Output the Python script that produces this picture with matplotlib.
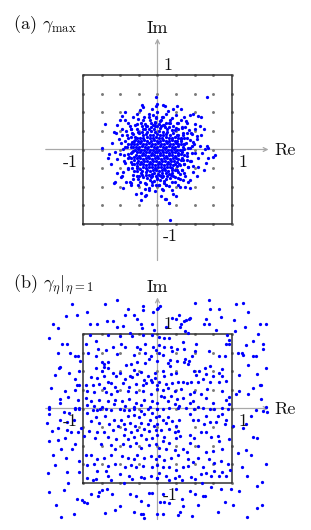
import numpy as np
import matplotlib
matplotlib.use("Agg")
import matplotlib.pyplot as plt

plt.rcParams['mathtext.fontset'] = 'cm'

# ---------------- data ----------------
grid_ticks = [-1.0, -0.75, -0.5, -0.25, 0.0, 0.25, 0.5, 0.75, 1.0]
tick_labels = ["1", "-1"]
axis_names = ["Re", "Im"]
titles = [r"(a) $\gamma_{\max}$", r"(b) $\gamma_\eta|_{\eta=1}$"]

# panel (a): eigenvalue cloud (estimated in the dense core)
points_a = [
    # dense core
    (-0.05, 0.28), (0.03, 0.29),
    (-0.14, 0.24), (-0.09, 0.25), (-0.03, 0.23), (0.02, 0.25), (0.07, 0.24), (0.13, 0.23),
    (-0.19, 0.20), (-0.15, 0.21), (-0.10, 0.19), (-0.06, 0.20), (-0.01, 0.21), (0.03, 0.19), (0.08, 0.20), (0.12, 0.21), (0.17, 0.19),
    (-0.23, 0.16), (-0.19, 0.15), (-0.14, 0.17), (-0.10, 0.16), (-0.06, 0.15), (-0.02, 0.17), (0.02, 0.16), (0.06, 0.15), (0.11, 0.17), (0.15, 0.16), (0.19, 0.15), (0.23, 0.17),
    (-0.26, 0.12), (-0.22, 0.11), (-0.18, 0.13), (-0.14, 0.12), (-0.09, 0.11), (-0.05, 0.13), (-0.01, 0.12), (0.03, 0.11), (0.07, 0.13), (0.11, 0.12), (0.15, 0.11), (0.19, 0.13), (0.23, 0.12), (0.26, 0.11),
    (-0.28, 0.08), (-0.24, 0.09), (-0.20, 0.07), (-0.16, 0.08), (-0.12, 0.09), (-0.08, 0.07), (-0.03, 0.08), (0.01, 0.09), (0.05, 0.07), (0.09, 0.08), (0.13, 0.09), (0.17, 0.07), (0.21, 0.08), (0.25, 0.09), (0.28, 0.07),
    (-0.29, 0.04), (-0.25, 0.03), (-0.21, 0.05), (-0.17, 0.04), (-0.13, 0.03), (-0.09, 0.05), (-0.05, 0.04), (-0.01, 0.03), (0.03, 0.05), (0.07, 0.04), (0.11, 0.03), (0.15, 0.05), (0.19, 0.04), (0.23, 0.03), (0.27, 0.05),
    (-0.30, 0.00), (-0.26, 0.01), (-0.22, -0.01), (-0.18, 0.00), (-0.14, 0.01), (-0.10, -0.01), (-0.06, 0.00), (-0.02, 0.01), (0.02, -0.01), (0.06, 0.00), (0.10, 0.01), (0.14, -0.01), (0.18, 0.00), (0.22, 0.01), (0.26, -0.01), (0.30, 0.00),
    (-0.28, -0.04), (-0.24, -0.03), (-0.20, -0.05), (-0.16, -0.04), (-0.12, -0.03), (-0.08, -0.05), (-0.04, -0.04), (0.00, -0.03), (0.04, -0.05), (0.08, -0.04), (0.12, -0.03), (0.16, -0.05), (0.20, -0.04), (0.24, -0.03), (0.28, -0.05),
    (-0.29, -0.08), (-0.25, -0.09), (-0.21, -0.07), (-0.17, -0.08), (-0.13, -0.09), (-0.09, -0.07), (-0.05, -0.08), (-0.01, -0.09), (0.03, -0.07), (0.07, -0.08), (0.11, -0.09), (0.15, -0.07), (0.19, -0.08), (0.23, -0.09), (0.27, -0.07),
    (-0.28, -0.12), (-0.24, -0.11), (-0.19, -0.13), (-0.15, -0.12), (-0.11, -0.11), (-0.07, -0.13), (-0.03, -0.12), (0.01, -0.11), (0.05, -0.13), (0.09, -0.12), (0.13, -0.11), (0.17, -0.13), (0.21, -0.12), (0.25, -0.11), (0.28, -0.13),
    (-0.26, -0.16), (-0.22, -0.17), (-0.18, -0.15), (-0.14, -0.16), (-0.10, -0.17), (-0.06, -0.15), (-0.02, -0.16), (0.02, -0.17), (0.06, -0.15), (0.10, -0.16), (0.14, -0.17), (0.18, -0.15), (0.22, -0.16), (0.26, -0.17),
    (-0.23, -0.20), (-0.19, -0.19), (-0.15, -0.21), (-0.11, -0.20), (-0.07, -0.19), (-0.03, -0.21), (0.01, -0.20), (0.05, -0.19), (0.09, -0.21), (0.13, -0.20), (0.17, -0.19), (0.21, -0.21), (0.24, -0.20),
    (-0.19, -0.24), (-0.15, -0.25), (-0.11, -0.23), (-0.07, -0.24), (-0.03, -0.25), (0.01, -0.23), (0.05, -0.24), (0.09, -0.25), (0.13, -0.23), (0.17, -0.24), (0.20, -0.25),
    (-0.14, -0.28), (-0.10, -0.29), (-0.06, -0.27), (-0.02, -0.28), (0.02, -0.29), (0.06, -0.27), (0.10, -0.28), (0.14, -0.29),
    (-0.05, -0.32), (0.01, -0.33), (0.06, -0.31),
    # inner ring
    (0.33, -0.01), (0.34, 0.04), (0.31, 0.07), (0.31, 0.12), (0.27, 0.15), (0.26, 0.20), (0.21, 0.22), (0.19, 0.26), (0.13, 0.27), (0.10, 0.30),
    (0.05, 0.32), (0.00, 0.31), (-0.04, 0.32), (-0.09, 0.30), (-0.12, 0.28), (-0.17, 0.28), (-0.21, 0.23), (-0.25, 0.22), (-0.27, 0.16), (-0.30, 0.13),
    (-0.32, 0.08), (-0.33, 0.04), (-0.34, -0.03), (-0.31, -0.10), (-0.32, -0.14), (-0.28, -0.18), (-0.28, -0.22), (-0.23, -0.26), (-0.21, -0.29), (-0.16, -0.30),
    (-0.12, -0.34), (-0.08, -0.33), (-0.02, -0.36), (0.02, -0.34), (0.07, -0.36), (0.11, -0.32), (0.16, -0.33), (0.19, -0.28), (0.23, -0.28), (0.26, -0.22),
    (0.29, -0.20), (0.31, -0.14), (0.33, -0.11), (0.32, -0.06),
    # second ring
    (0.36, 0.01), (0.35, 0.08), (0.31, 0.15), (0.28, 0.20), (0.23, 0.26), (0.16, 0.30), (0.08, 0.33), (0.02, 0.34), (-0.06, 0.33), (-0.14, 0.32),
    (-0.20, 0.27), (-0.26, 0.23), (-0.30, 0.17), (-0.34, 0.10), (-0.36, 0.03), (-0.36, -0.05), (-0.35, -0.12), (-0.32, -0.19), (-0.27, -0.25), (-0.22, -0.31),
    (-0.16, -0.34), (-0.09, -0.37), (-0.01, -0.38), (0.06, -0.37), (0.13, -0.36), (0.20, -0.32), (0.26, -0.27), (0.30, -0.21), (0.34, -0.14), (0.36, -0.07),
    # outer ring
    (0.41, 0.02), (0.38, 0.09), (0.36, 0.15), (0.34, 0.19), (0.28, 0.27), (0.25, 0.29), (0.17, 0.35), (0.12, 0.35), (0.05, 0.39), (-0.03, 0.37),
    (-0.09, 0.36), (-0.17, 0.34), (-0.21, 0.32), (-0.27, 0.28), (-0.33, 0.21), (-0.35, 0.17), (-0.39, 0.08), (-0.41, 0.03), (-0.39, -0.06), (-0.40, -0.12),
    (-0.36, -0.17), (-0.34, -0.25), (-0.28, -0.29), (-0.25, -0.35), (-0.19, -0.37), (-0.10, -0.41), (-0.05, -0.42), (0.04, -0.41), (0.09, -0.42), (0.17, -0.38),
    (0.21, -0.36), (0.27, -0.30), (0.33, -0.27), (0.35, -0.19), (0.39, -0.14), (0.40, -0.05),
    # fringe ring
    (0.46, 0.05), (0.43, 0.13), (0.39, 0.22), (0.33, 0.29), (0.26, 0.36), (0.17, 0.40), (0.08, 0.44), (-0.02, 0.44), (-0.11, 0.43), (-0.20, 0.39),
    (-0.28, 0.34), (-0.35, 0.27), (-0.41, 0.20), (-0.44, 0.11), (-0.46, 0.01), (-0.45, -0.08), (-0.43, -0.18), (-0.39, -0.26), (-0.33, -0.34), (-0.26, -0.40),
    (-0.17, -0.45), (-0.08, -0.47), (0.02, -0.48), (0.11, -0.47), (0.20, -0.43), (0.28, -0.38), (0.35, -0.32), (0.41, -0.24), (0.44, -0.15), (0.46, -0.05),
    # ring around core
    (-0.30, 0.33), (-0.22, 0.36), (-0.15, 0.31), (-0.10, 0.40), (-0.04, 0.35), (0.03, 0.38), (0.09, 0.33), (0.15, 0.36), (0.21, 0.31), (0.27, 0.35),
    (-0.18, 0.44), (-0.06, 0.46), (0.06, 0.44), (0.12, 0.47), (0.20, 0.42), (0.33, 0.30), (-0.35, 0.27), (-0.26, 0.41), (0.00, 0.50), (-0.12, 0.48),
    (0.25, 0.46), (0.38, 0.38), (-0.40, 0.36), (0.14, 0.52), (-0.02, 0.42), (0.31, 0.40), (-0.33, 0.44),
    (0.34, 0.22), (0.40, 0.15), (0.36, 0.08), (0.44, 0.02), (0.33, -0.03), (0.39, -0.09), (0.45, -0.15), (0.35, -0.19), (0.42, 0.26), (0.48, 0.10),
    (0.50, -0.05), (0.37, 0.30), (0.32, 0.14), (0.46, 0.21), (0.41, -0.24), (0.33, -0.27), (0.53, 0.18), (0.55, -0.12), (0.47, -0.22),
    (-0.34, 0.22), (-0.40, 0.15), (-0.36, 0.08), (-0.44, 0.03), (-0.33, -0.02), (-0.38, -0.10), (-0.45, -0.16), (-0.34, -0.20), (-0.42, 0.25), (-0.49, 0.09),
    (-0.50, -0.06), (-0.37, 0.31), (-0.32, 0.12), (-0.47, 0.20), (-0.40, -0.25), (-0.31, -0.29), (-0.52, 0.14), (-0.54, -0.13), (-0.46, -0.30), (-0.56, 0.22),
    (-0.28, -0.36), (-0.21, -0.34), (-0.14, -0.38), (-0.08, -0.35), (-0.01, -0.40), (0.05, -0.36), (0.11, -0.39), (0.18, -0.34), (0.24, -0.37), (0.30, -0.33),
    (-0.24, -0.43), (-0.16, -0.46), (-0.07, -0.44), (0.02, -0.47), (0.09, -0.45), (0.16, -0.49), (0.23, -0.44), (0.34, -0.41), (-0.33, -0.40), (-0.11, -0.52),
    (0.06, -0.53), (0.28, -0.48), (-0.36, -0.48), (0.37, -0.36), (-0.03, -0.56), (0.19, -0.55),
    # outliers
    (0.66, 0.71), (-0.02, 0.71), (-0.20, 0.57), (-0.23, 0.53), (-0.43, 0.51), (-0.02, 0.58), (0.07, 0.60), (0.10, 0.58), (0.21, 0.54), (0.32, 0.55),
    (0.44, 0.46), (0.59, 0.44), (-0.70, 0.34), (-0.55, 0.33), (-0.59, 0.23), (-0.74, 0.02), (-0.65, -0.06), (-0.57, -0.03), (0.57, 0.05), (0.66, 0.05),
    (0.75, -0.10), (0.65, -0.18), (0.54, -0.23), (0.48, -0.30), (-0.57, -0.43), (-0.49, -0.37), (0.57, 0.31), (0.50, 0.34), (-0.22, -0.59), (-0.17, -0.63),
    (-0.22, -0.68), (-0.15, -0.61), (0.05, -0.63), (0.10, -0.67), (0.16, -0.72), (0.21, -0.60), (0.17, -0.95), (-0.02, -0.48), (0.07, -0.54), (-0.29, -0.60),
    (0.43, -0.41), (0.41, -0.43), (-0.55, -0.32), (-0.35, -0.45), (0.30, -0.50), (0.12, -0.48), (-0.43, 0.40), (-0.50, 0.39), (-0.47, 0.28), (-0.28, 0.47),
    (-0.21, 0.60), (0.00, 0.61), (0.47, 0.48), (0.55, 0.45), (0.62, 0.27), (0.50, 0.28), (0.45, 0.22), (0.53, 0.14), (0.64, 0.01), (0.68, 0.02),
    (0.49, 0.08), (0.35, 0.43), (0.39, 0.36), (-0.58, -0.45), (-0.47, -0.36), (-0.42, -0.43), (-0.37, -0.43), (-0.26, -0.48), (-0.66, -0.11), (-0.17, -0.53),
    (-0.11, -0.54), (0.12, -0.66), (0.15, -0.72), (0.62, -0.28), (0.53, -0.35), (0.30, -0.39), (0.37, -0.50), (0.68, -0.11), (0.77, -0.07),
    (-0.61, 0.09), (-0.62, -0.20), (0.58, 0.19), (0.60, -0.05), (-0.48, 0.45), (0.26, 0.58), (-0.08, 0.55), (0.44, -0.52), (-0.46, -0.52), (0.25, -0.62),
]

# panel (b): eigenvalues spread over [-1.5, 1.5]^2
points_b = [
    (-0.70, 1.40), (-0.40, 1.34), (-0.19, 1.38), (-0.19, 1.32), (0.01, 1.35), (-0.06, 1.29), (-0.43, 1.25), (-0.32, 1.25),
    (-1.23, 1.24), (-1.08, 1.25), (-1.40, 1.14), (-1.34, 1.08),
    (-0.91, 1.13), (-0.81, 1.14), (-0.68, 1.18), (-0.60, 1.17), (-0.54, 1.10), (-0.46, 1.11), (-0.22, 1.14), (-0.21, 1.08), (-0.07, 1.13),
    (-0.37, 1.01), (-0.50, 0.97), (-0.34, 0.97), (-0.19, 0.98), (-0.07, 0.99), (-0.91, 0.99), (-0.67, 0.98),
    (-0.83, 0.91), (-1.28, 0.87), (-1.22, 0.86), (-1.33, 0.75), (-1.17, 0.74), (-1.11, 0.70), (-1.07, 0.71), (-0.96, 0.87), (-0.60, 0.83), (-0.43, 0.82),
    (-0.27, 0.82), (-0.23, 0.80), (-0.17, 0.87), (-0.06, 0.83), (-0.80, 0.80), (-0.69, 0.79), (-0.49, 0.87), (-0.02, 0.78),
    (-0.93, 0.74), (-0.83, 0.70), (-0.54, 0.73), (-0.31, 0.72), (-0.17, 0.74), (-0.09, 0.71), (-0.75, 0.62), (-0.72, 0.60), (-0.66, 0.62), (-0.72, 0.56),
    (-0.67, 0.54), (-1.04, 0.64), (-0.42, 0.59), (-0.35, 0.60), (-0.27, 0.62), (-0.17, 0.61), (-0.11, 0.66), (-1.32, 0.54), (-1.31, 0.56), (-1.19, 0.47),
    (-0.83, 0.54), (-0.74, 0.51), (-0.60, 0.48), (-0.50, 0.48), (-0.32, 0.52), (-0.22, 0.49), (-0.13, 0.44), (-0.04, 0.47), (-0.37, 0.44), (-0.28, 0.46),
    (-1.11, 0.40), (-0.89, 0.42), (-0.81, 0.41), (-0.72, 0.44), (-0.67, 0.36), (-0.56, 0.43), (-0.43, 0.39), (-0.34, 0.42), (-0.18, 0.38), (-0.09, 0.38), (-0.03, 0.41),
    (-1.43, 0.28), (-1.08, 0.32), (-1.05, 0.32), (-0.96, 0.31), (-0.87, 0.31), (-0.78, 0.33), (-0.72, 0.28), (-0.63, 0.34), (-0.57, 0.29), (-0.46, 0.34),
    (-0.38, 0.29), (-0.29, 0.33), (-0.20, 0.31), (-0.15, 0.34), (-0.07, 0.35), (-0.01, 0.32), (-1.24, 0.23), (-1.11, 0.25), (-0.95, 0.24), (-0.85, 0.22),
    (-0.69, 0.22), (-0.63, 0.20), (-0.54, 0.23), (-0.40, 0.24), (-0.29, 0.22), (-0.19, 0.24), (-0.09, 0.20),
    (-1.31, 0.13), (-1.20, 0.15), (-1.07, 0.11), (-0.96, 0.14), (-0.89, 0.10), (-0.78, 0.11), (-0.67, 0.10), (-0.57, 0.11), (-0.48, 0.10), (-0.38, 0.13),
    (-0.29, 0.08), (-0.18, 0.11), (-0.07, 0.10), (-1.31, 0.08), (-0.95, 0.05), (-0.85, 0.04), (-0.74, 0.02), (-0.58, 0.06), (-0.43, 0.04), (-0.32, 0.02),
    (-0.22, 0.05), (-0.10, 0.02), (-1.45, 0.02), (-1.11, 0.01), (-1.05, 0.01),
    # top-right
    (0.69, 1.46), (0.00, 1.34), (0.04, 1.37), (0.83, 1.34), (0.71, 1.34), (1.06, 1.40), (1.15, 1.41), (0.29, 1.26), (0.25, 1.20), (0.35, 1.17),
    (0.38, 1.19), (0.42, 1.20), (0.44, 1.21), (0.32, 1.14), (0.30, 1.10), (0.65, 1.20), (0.62, 1.14), (0.69, 1.14), (0.85, 1.23), (1.03, 1.19),
    (1.17, 1.10), (1.38, 1.14), (1.46, 1.13), (0.79, 1.05), (1.04, 1.04), (0.37, 1.04), (0.41, 1.02), (0.11, 1.09),
    (0.02, 0.96), (0.09, 0.95), (0.16, 0.95), (0.93, 0.98), (0.96, 0.92), (0.92, 0.87), (0.96, 0.86), (0.34, 0.89), (0.52, 0.86), (0.02, 0.85),
    (0.09, 0.82), (0.18, 0.83), (0.20, 0.77), (0.02, 0.75), (0.08, 0.72), (0.26, 0.80), (0.35, 0.80), (0.51, 0.77), (0.46, 0.71), (0.69, 0.77),
    (0.82, 0.71), (0.90, 0.70), (1.08, 0.74), (1.13, 0.74), (1.15, 0.72), (1.19, 0.85), (1.28, 0.91), (1.42, 0.87), (1.42, 0.80), (1.28, 0.70),
    (1.32, 0.70), (1.21, 0.59),
    (0.17, 0.65), (0.14, 0.61), (0.17, 0.57), (0.26, 0.64), (0.37, 0.66), (0.36, 0.62), (0.42, 0.64), (0.41, 0.60), (0.00, 0.64), (0.07, 0.51),
    (0.18, 0.46), (0.25, 0.48), (0.09, 0.44), (0.49, 0.50), (0.56, 0.51), (0.52, 0.45), (0.64, 0.55), (0.71, 0.57), (0.65, 0.46), (0.74, 0.44),
    (0.82, 0.48), (0.87, 0.53), (0.87, 0.43), (0.61, 0.40), (0.92, 0.37), (0.83, 0.35), (1.33, 0.46), (1.37, 0.32), (1.39, 0.32),
    (0.02, 0.35), (0.11, 0.33), (0.20, 0.34), (0.27, 0.36), (0.34, 0.35), (0.40, 0.34), (0.45, 0.36), (0.55, 0.36), (0.70, 0.36), (0.00, 0.26),
    (0.07, 0.25), (0.14, 0.28), (0.23, 0.24), (0.32, 0.26), (0.43, 0.20), (0.49, 0.22), (0.58, 0.20), (0.67, 0.26), (0.87, 0.24), (1.28, 0.27),
    (1.05, 0.20), (1.10, 0.23), (1.21, 0.20),
    (0.05, 0.17), (0.09, 0.15), (0.18, 0.17), (0.26, 0.13), (0.34, 0.14), (0.47, 0.10), (0.65, 0.14), (0.74, 0.08), (0.92, 0.11), (0.96, 0.16),
    (1.39, 0.13), (0.00, 0.08), (0.14, 0.10), (0.23, 0.06), (0.29, 0.04), (0.43, 0.08), (0.55, 0.02), (0.96, 0.06), (1.46, 0.02),
    # bottom-left
    (-1.45, 0.00), (-1.26, -0.05), (-1.19, -0.06), (-1.11, -0.01), (-1.05, 0.00), (-1.45, -0.08), (-1.31, -0.15), (-1.22, -0.18), (-1.12, -0.15), (-1.33, -0.26),
    (-1.41, -0.30), (-1.21, -0.29), (-1.16, -0.32), (-1.07, -0.32), (-1.03, -0.26), (-1.45, -0.44), (-1.33, -0.42), (-1.24, -0.40), (-1.11, -0.48), (-1.30, -0.55),
    (-1.23, -0.66), (-1.05, -0.70), (-1.37, -0.76), (-1.06, -0.85), (-1.47, -0.87), (-1.22, -0.85),
    (-0.87, -0.02), (-0.81, -0.02), (-0.77, -0.01), (-0.69, -0.01), (-0.63, -0.02), (-0.51, 0.00), (-0.45, -0.02), (-0.38, -0.02), (-0.31, -0.01), (-0.22, -0.03),
    (-0.13, -0.01), (-0.07, -0.06), (-0.01, 0.00), (-0.95, -0.06),
    (-0.83, -0.12), (-0.71, -0.10), (-0.58, -0.15), (-0.49, -0.15), (-0.40, -0.10), (-0.32, -0.09), (-0.25, -0.12), (-0.18, -0.08), (-0.10, -0.15), (-0.02, -0.11),
    (-0.89, -0.17), (-0.78, -0.19), (-0.65, -0.21), (-0.53, -0.24), (-0.45, -0.21), (-0.37, -0.19), (-0.30, -0.23), (-0.22, -0.19), (-0.13, -0.21), (-0.05, -0.23),
    (-0.92, -0.30), (-0.81, -0.32), (-0.72, -0.32), (-0.60, -0.29), (-0.43, -0.28), (-0.35, -0.32), (-0.27, -0.29), (-0.18, -0.27), (-0.11, -0.30), (-0.02, -0.29),
    (-0.98, -0.37), (-0.84, -0.39), (-0.67, -0.38), (-0.56, -0.41), (-0.45, -0.35), (-0.40, -0.41), (-0.32, -0.38), (-0.22, -0.36), (-0.16, -0.41), (-0.07, -0.39),
    (-0.76, -0.47), (-0.63, -0.49), (-0.57, -0.55), (-0.46, -0.48), (-0.37, -0.50), (-0.29, -0.46), (-0.22, -0.53), (-0.11, -0.49), (-0.02, -0.47),
    (-0.96, -0.62), (-0.89, -0.63), (-0.81, -0.68), (-0.72, -0.66), (-0.63, -0.62), (-0.47, -0.64), (-0.39, -0.67), (-0.32, -0.68), (-0.27, -0.63), (-0.18, -0.66),
    (-0.09, -0.64), (-0.02, -0.68), (-0.94, -0.76), (-0.85, -0.74), (-0.67, -0.77), (-0.57, -0.75), (-0.43, -0.79), (-0.36, -0.76), (-0.29, -0.78), (-0.19, -0.77),
    (-0.07, -0.79), (-0.81, -0.84), (-0.69, -0.84), (-0.67, -0.91), (-0.50, -0.88), (-0.38, -0.91), (-0.34, -0.94), (-0.22, -0.92), (-0.18, -0.93), (-0.09, -0.91),
    (0.00, -0.93), (-0.87, -0.96), (-0.83, -0.94), (-0.95, -0.93), (-0.63, -0.96),
    (-1.45, -1.12), (-0.74, -1.09), (-0.78, -1.12), (-0.68, -1.08), (-0.89, -1.15), (-1.08, -1.21), (-1.02, -1.23), (-0.98, -1.26), (-0.95, -1.27), (-1.36, -1.30),
    (-0.80, -1.17), (-0.61, -1.15), (-0.50, -1.31), (-0.57, -1.36), (-0.32, -1.39), (-0.37, -1.15), (-0.29, -1.17), (-0.11, -1.14), (-0.22, -1.24), (-0.13, -1.30),
    (-1.12, -1.41), (-0.22, -1.41), (-0.19, -1.41), (-0.18, -1.47), (-0.08, -1.13),
    # bottom-right
    (0.00, 0.00), (0.07, 0.00), (0.16, 0.01), (0.27, 0.01), (0.38, 0.01), (0.49, 0.00), (0.61, 0.01), (0.70, 0.00), (0.76, -0.01), (0.87, 0.01),
    (0.94, -0.01), (1.42, -0.03), (1.47, -0.05), (1.32, -0.02),
    (0.02, -0.10), (0.07, -0.16), (0.14, -0.12), (0.19, -0.17), (0.11, -0.19), (0.00, -0.21), (0.25, -0.23), (0.29, -0.15), (0.43, -0.08), (0.48, -0.16),
    (0.55, -0.15), (0.65, -0.10), (0.70, -0.18), (0.81, -0.10), (0.87, -0.08), (0.92, -0.15), (0.90, -0.21), (0.79, -0.18), (0.63, -0.21), (1.02, -0.24),
    (1.15, -0.26), (1.19, -0.21),
    (0.05, -0.29), (0.16, -0.28), (0.23, -0.32), (0.28, -0.30), (0.00, -0.35), (0.09, -0.38), (0.25, -0.39), (0.30, -0.37), (0.43, -0.36), (0.49, -0.40),
    (0.58, -0.32), (0.65, -0.32), (0.72, -0.38), (0.81, -0.37), (0.96, -0.41), (0.07, -0.44), (0.16, -0.46), (0.44, -0.46), (0.54, -0.50), (0.82, -0.44),
    (1.28, -0.38), (1.34, -0.39), (1.19, -0.56), (1.26, -0.62),
    (0.02, -0.53), (0.11, -0.54), (0.23, -0.56), (0.34, -0.55), (0.39, -0.59), (0.65, -0.58), (0.74, -0.57), (0.87, -0.55), (0.02, -0.64), (0.09, -0.69),
    (0.18, -0.67), (0.28, -0.63), (0.41, -0.68), (0.47, -0.72), (0.54, -0.67), (0.69, -0.68), (0.76, -0.73), (0.85, -0.70), (0.94, -0.75), (0.00, -0.76),
    (0.07, -0.79), (0.16, -0.78), (0.25, -0.82), (0.34, -0.79), (0.41, -0.77), (0.61, -0.79), (0.65, -0.86), (0.76, -0.84), (0.87, -0.85), (0.97, -0.82),
    (1.13, -0.79), (0.02, -0.86), (0.11, -0.90), (0.23, -0.93), (0.29, -0.91), (0.45, -0.92), (0.58, -0.88), (0.72, -0.91), (0.82, -0.91), (0.92, -0.90),
    (0.00, -0.93), (0.16, -0.96), (0.33, -0.96), (0.51, -0.94),
    (0.07, -1.15), (0.25, -1.08), (0.43, -1.11), (0.51, -1.15), (0.61, -1.17), (0.64, -1.17), (0.72, -1.06), (0.85, -1.08), (0.99, -1.08), (1.10, -1.11),
    (1.34, -1.04), (1.40, -0.99), (0.03, -1.26), (0.09, -1.26), (0.16, -1.27), (0.33, -1.22), (0.34, -1.31), (0.81, -1.39), (1.01, -1.29), (1.33, -1.33),
    (1.40, -1.29), (0.08, -1.42), (0.30, -1.39), (0.28, -1.43), (0.46, -1.44), (0.00, -1.42),
    # extra points in sparser zones
    (-1.15, 1.40), (-0.95, 1.30), (-1.45, 0.95), (-1.38, 0.45), (-1.48, -0.20), (-1.40, -0.62), (-1.20, -1.00), (-1.30, -1.45), (-0.70, -1.40), (0.55, -1.30),
    (0.90, -1.25), (1.20, -1.45), (1.45, -0.75), (1.25, -0.10), (1.45, 0.55), (1.22, 1.30), (0.50, 1.42), (-0.55, 1.45), (1.10, 0.45), (1.20, -0.90),
    (-1.25, -1.10), (0.20, 1.22), (-0.28, 1.20), (1.35, 1.00), (-1.05, 0.50), (1.08, -0.60), (-1.15, -0.55), (0.60, -1.00), (-0.45, -1.00), (-0.05, 1.05),
]

# ---------------- styling ----------------
W, H, DPI = 311, 530, 100
fig = plt.figure(figsize=(W / DPI, H / DPI), dpi=DPI)

CENTER_X = 157.5
SCALE = 74.5
BLUE = "#0000ff"
AXIS_GRAY = "#a8a8a8"
DOT_GRAY = "#7a7a7a"
SQUARE = "#333333"
TXT = dict(fontfamily="cmr10", fontsize=13, color="#111111")


def panel(ax, center_y_px, top_px, pts, title):
    bottom_px = top_px + H / 2
    ax.set_xlim((0 - CENTER_X) / SCALE, (W - CENTER_X) / SCALE)
    ax.set_ylim((center_y_px - bottom_px) / SCALE, (center_y_px - top_px) / SCALE)
    ax.set_aspect("auto")
    ax.axis("off")

    # coordinate axes with arrows
    ax.annotate("", xy=(1.49, 0), xytext=(-1.50, 0),
                arrowprops=dict(arrowstyle="->", color=AXIS_GRAY, lw=0.9,
                                shrinkA=0, shrinkB=0, mutation_scale=7), zorder=1)
    ax.annotate("", xy=(0, 1.49), xytext=(0, -1.49),
                arrowprops=dict(arrowstyle="->", color=AXIS_GRAY, lw=0.9,
                                shrinkA=0, shrinkB=0, mutation_scale=7), zorder=1)

    # grid dots
    gx, gy = np.meshgrid(grid_ticks, grid_ticks)
    ax.scatter(gx.ravel(), gy.ravel(), s=4.5, c=DOT_GRAY, linewidths=0, zorder=2)

    # unit square
    ax.plot([-1, 1, 1, -1, -1], [-1, -1, 1, 1, -1], color=SQUARE, lw=1.1, zorder=3)

    # eigenvalues
    p = np.array(pts)
    ax.scatter(p[:, 0], p[:, 1], s=5.5, c=BLUE, linewidths=0, zorder=4)

    # labels
    ax.text(0.14, 1.13, tick_labels[0], ha="center", va="center", zorder=5, **TXT)
    ax.text(-1.17, -0.17, tick_labels[1], ha="center", va="center", zorder=5, **TXT)
    ax.text(1.14, -0.17, tick_labels[0], ha="center", va="center", zorder=5, **TXT)
    ax.text(0.17, -1.16, tick_labels[1], ha="center", va="center", zorder=5, **TXT)
    ax.text(1.57, -0.01, axis_names[0], ha="left", va="center", zorder=5, **TXT)
    ax.text(0.0, 1.63, axis_names[1], ha="center", va="center", zorder=5, **TXT)
    ax.text(-1.94, 1.67, title, ha="left", va="center", zorder=5, **TXT)


ax_a = fig.add_axes([0, 0.5, 1, 0.5])
panel(ax_a, 149.5, 0, points_a, titles[0])
ax_b = fig.add_axes([0, 0.0, 1, 0.5])
panel(ax_b, 408.5, 265, points_b, titles[1])

fig.savefig("out.png", dpi=DPI)
